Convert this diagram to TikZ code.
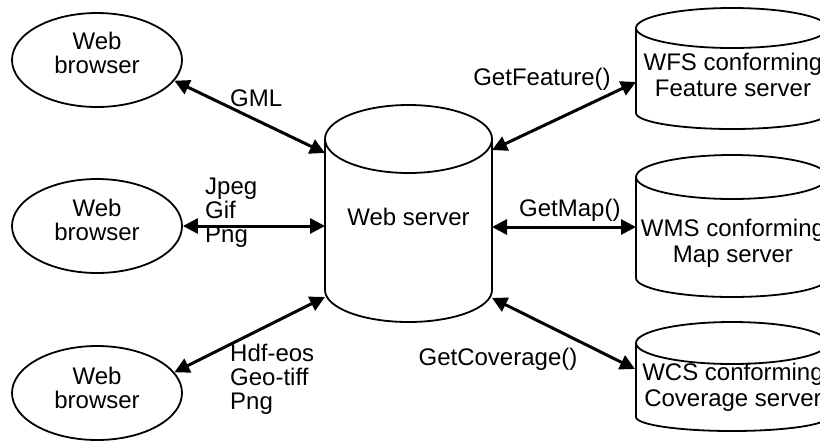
\documentclass[tikz,border=0pt]{standalone}
\usepackage{fontspec}
\setmainfont{Liberation Sans}
\usetikzlibrary{arrows.meta,shapes.geometric}
\newcommand\mycyl[6]{% cx, top y, bottom y, rx, ry top, ry bottom
  \draw[shp] (#1-#4,#2) -- (#1-#4,#3) arc[start angle=180,end angle=0,x radius=#4,y radius=#6] -- (#1+#4,#2);
  \draw[shp] (#1,#2) ellipse[x radius=#4,y radius=#5];
}
\begin{document}
\begin{tikzpicture}[x=1pt,y=-1pt,
  lbl/.style={font=\fontsize{24}{24}\selectfont, align=center, inner sep=0pt},
  lbr/.style={font=\fontsize{24}{26}\selectfont, align=center, inner sep=0pt},
  lbll/.style={font=\fontsize{24}{24}\selectfont, align=left, inner sep=0pt, anchor=west},
  shp/.style={draw, line width=1.8pt},
  brow/.style={ellipse, draw, line width=1.8pt, minimum width=170pt, minimum height=94pt, inner sep=0pt},
  conn/.style={line width=3pt, {Triangle[length=15pt,width=15pt]}-{Triangle[length=15pt,width=15pt]}},
]
\useasboundingbox (0,0) rectangle (820,440);

% browsers
\node[brow] (b1) at (97,60) {};
\node[brow] (b2) at (97,226) {};
\node[brow] (b3) at (97,393) {};
\node[lbl] (b1t) at (97,53) {Web\\browser};
\node[lbl] (b2t) at (97,220) {Web\\browser};
\node[lbl] (b3t) at (97,388) {Web\\browser};

% central web server
\mycyl{408.5}{139}{290}{83.5}{34}{32}
\node[lbl] (ws) at (408.5,217) {Web server};
\coordinate (wsl1) at (325,153);
\coordinate (wsl2) at (325,226);
\coordinate (wsl3) at (325,297);
\coordinate (wsr1) at (492,150);
\coordinate (wsr2) at (492,227);
\coordinate (wsr3) at (492,298);

% right servers
\mycyl{732}{28}{113}{96}{20}{16}
\mycyl{732}{177}{278}{96}{22}{19}
\mycyl{732}{343}{417}{96}{21}{14}
\node[lbr] (wfs) at (733,75) {WFS conforming\\Feature server};
\node[lbr] (wms) at (733,243) {WMS conforming\\Map server};
\node[lbr] (wcs) at (733,387) {WCS conforming\\Coverage server};
\coordinate (wfsl) at (636,82);
\coordinate (wmsl) at (636,227);
\coordinate (wcsl) at (635,369);

% connectors
\draw[conn] (b1.-15) -- (wsl1);
\draw[conn] (b2.east) -- (wsl2);
\draw[conn] (b3.15) -- (wsl3);
\draw[conn] (wsr1) -- (wfsl);
\draw[conn] (wsr2) -- (wmsl);
\draw[conn] (wsr3) -- (wcsl);

% labels
\node[lbll] (lgml) at (230,98) {GML};
\node[lbll] (ljpg) at (205,213) {Jpeg\\Gif\\Png};
\node[lbll] (lhdf) at (230,379) {Hdf-eos\\Geo-tiff\\Png};
\node[lbl] (lgf) at (542,79) {GetFeature()};
\node[lbll] (lgm) at (519,210) {GetMap()};
\node[lbl] (lgc) at (498,359) {GetCoverage()};
\end{tikzpicture}
\end{document}
